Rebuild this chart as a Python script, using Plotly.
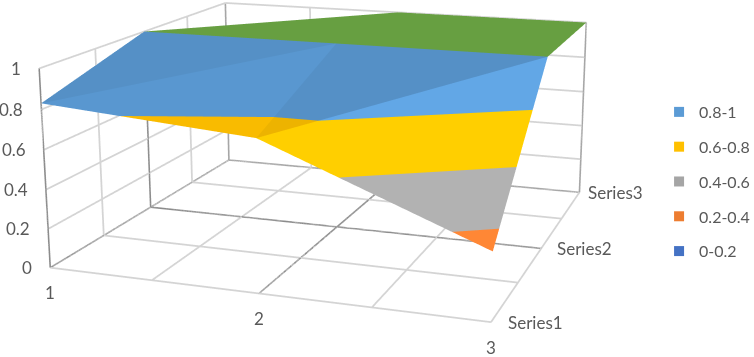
import numpy as np
import plotly.graph_objects as go

categories = [1, 2, 3]
series_names = ["Series1", "Series2", "Series3"]
series1 = [0.83, 0.75, 0.33]
series2 = [1.0, 1.0, 1.0]
series3 = [0.7, 1.0, 1.0]
z_ticks = [0, 0.2, 0.4, 0.6, 0.8, 1]
band_names = ["0.8-1", "0.6-0.8", "0.4-0.6", "0.2-0.4", "0-0.2"]
band_limits = [(0.8, 1.0), (0.6, 0.8), (0.4, 0.6), (0.2, 0.4), (0.0, 0.2)]
band_colors = ["#5B9BD5", "#FFC000", "#A5A5A5", "#ED7D31", "#4472C4"]
floor_ticks = [1, 1.5, 2, 2.5, 3]

FIG_W, FIG_H = 1600, 1178
LEFT, TOP = 354.93 - FIG_W/2, 140.02 - FIG_H/2
def px(x): return (x-LEFT)/FIG_W
def py(y): return 1-(y-TOP)/FIG_H

Z = np.array([series1, series2, series3], float)
tris = [((0,0),(0,1),(1,1),.975),((0,0),(1,1),(1,0),.93),
        ((0,1),(0,2),(1,2),1.08),((0,1),(1,2),(1,1),.93),
        ((1,0),(1,1),(2,1),.93),((1,0),(2,1),(2,0),.93),
        ((1,1),(1,2),(2,2),.93),((1,1),(2,2),(2,1),.93)]

def clip(poly, lev, keep_above):
    out=[]
    for i in range(len(poly)):
        a=poly[i]; b=poly[(i+1)%len(poly)]
        ina=(a[2]>=lev) if keep_above else (a[2]<=lev)
        inb=(b[2]>=lev) if keep_above else (b[2]<=lev)
        if ina: out.append(a)
        if ina!=inb:
            t=(lev-a[2])/(b[2]-a[2])
            out.append(tuple(a[k]+t*(b[k]-a[k]) for k in range(3)))
    return out

def shade(h,f):
    v=[int(h[i:i+2],16) for i in (1,3,5)]
    return "rgb(%d,%d,%d)"%tuple(min(255,round(c*f)) for c in v)

vx,vy,vz,I,J_,K,fc=[],[],[],[],[],[],[]
def add(poly,col):
    n=len(vx)
    for q in poly:
        vx.append(q[0]); vy.append(q[1]); vz.append(q[2])
    for i in range(1,len(poly)-1):
        I.append(n); J_.append(n+i); K.append(n+i+1); fc.append(col)

for a,b,c,f in tris:
    poly=[(categories[q[1]],q[0]+1,Z[q[0],q[1]]) for q in (a,b,c)]
    zs=[q[2] for q in poly]
    if min(zs)>=1.0:
        add(poly,shade("#70AD47",f*.99)); continue
    for (lo,hi),col in zip(band_limits,band_colors):
        pp=clip(poly,lo,True)
        if len(pp)>=3: pp=clip(pp,hi,False)
        if len(pp)>=3 and max(q[2] for q in pp)-min(q[2] for q in pp)>1e-9:
            add(pp,shade(col,f))

fig=go.Figure()
fig.add_trace(go.Mesh3d(x=vx,y=vy,z=vz,i=I,j=J_,k=K,facecolor=fc,flatshading=True,
    lighting=dict(ambient=1,diffuse=0,specular=0,roughness=1,fresnel=0),showlegend=False,hoverinfo="skip"))

def line3d(a,b,col,w):
    fig.add_trace(go.Scatter3d(x=[a[0],b[0]],y=[a[1],b[1]],z=[a[2],b[2]],mode="lines",
        line=dict(color=col,width=w),showlegend=False,hoverinfo="skip"))

LIGHT="#D4D4D4"
for t in floor_ticks:
    line3d((t,1,0),(t,3,0),LIGHT,3.5)      # floor, along depth
    line3d((1,t,0),(3,t,0),LIGHT,3.5)      # floor, along width
    line3d((1,t,0),(1,t,1),LIGHT,3.5)      # left wall verticals
    line3d((t,3,0),(t,3,1),LIGHT,3.5)      # back wall verticals
for v in z_ticks:
    line3d((1,1,v),(1,3,v),LIGHT,3.5)      # left wall horizontals
    line3d((1,3,v),(3,3,v),LIGHT,3.5)      # back wall horizontals

DARK="#8C8C8C"
MID="#A6A6A6"
dark_lines=[((1,1,0),(1,1,1)),((1,2,0),(1,2,1)),((1,2,0),(3,2,0)),((2,1,0),(2,3,0)),((1,1,0),(1,3,0))]
mid_lines=[((1,3,0),(1,3,1)),((3,3,0),(3,3,1)),((1,3,0),(3,3,0))]
for a,b in dark_lines:
    line3d(a,b,DARK,3)
for a,b in mid_lines:
    line3d(a,b,MID,3)

for i,(n,col) in enumerate(zip(band_names,band_colors)):
    fig.add_trace(go.Scatter(x=[None],y=[None],mode="markers",name=n,legendgroup=n,
        marker=dict(symbol="square",size=10,color=col)))

TXT="#595959"
LEG_FONT=dict(family="Lato, Carlito, sans-serif",size=16,color=TXT)
FONT=dict(family="Lato, Carlito, sans-serif",size=17,color=TXT)
ann=[]
for v in z_ticks:
    ann.append(dict(x=1,y=1,z=v,text=str(v),showarrow=False,xanchor="right",xshift=-16,font=FONT))
for c in categories:
    ann.append(dict(x=c,y=1,z=0,text=str(c),showarrow=False,yshift=-25,font=FONT))
for i,(n,sh) in enumerate(zip(series_names,[15,14,7])):
    ann.append(dict(x=3,y=i+1,z=0,text=n,showarrow=False,xanchor="left",xshift=sh,font=FONT))

ax=dict(showticklabels=False,title="",showspikes=False,zeroline=False,showline=False,
        showbackground=False,gridcolor="#D9D9D9",gridwidth=1,ticks="")
fig.update_layout(width=FIG_W,height=FIG_H,margin=dict(l=0,r=0,t=0,b=0),paper_bgcolor="white",plot_bgcolor="white",
    showlegend=True,
    legend=dict(x=px(659),y=py(95),xanchor="left",yanchor="top",tracegroupgap=11,font=LEG_FONT,itemwidth=30,bgcolor="rgba(0,0,0,0)"),
    xaxis=dict(visible=False),yaxis=dict(visible=False),
    scene=dict(domain=dict(x=[0,1],y=[0,1]),
        xaxis=dict(ax,range=[0.998,3.002],dtick=0.5),
        yaxis=dict(ax,range=[0.998,3.002],dtick=0.5),
        zaxis=dict(ax,range=[-0.001,1.001],dtick=0.2),
        aspectmode="manual",aspectratio=dict(x=4.453/2,y=4.3247/2,z=1),
        camera=dict(eye=dict(x=2.4653,y=-6.8536,z=1.8286),
                    center=dict(x=0.0657,y=0.1066,z=-0.0382),
                    up=dict(x=-0.0003,y=-0.0058,z=1),
                    projection=dict(type="perspective")),
        annotations=ann))
post=("var gd=document.getElementById('{plot_id}');document.documentElement.style.overflow='hidden';"
      "document.body.style.margin='0';document.body.style.overflow='hidden';gd.style.position='absolute';"
      f"gd.style.left='{LEFT:.1f}px';gd.style.top='{TOP:.1f}px';")
fig.write_html("out.html",post_script=post)
